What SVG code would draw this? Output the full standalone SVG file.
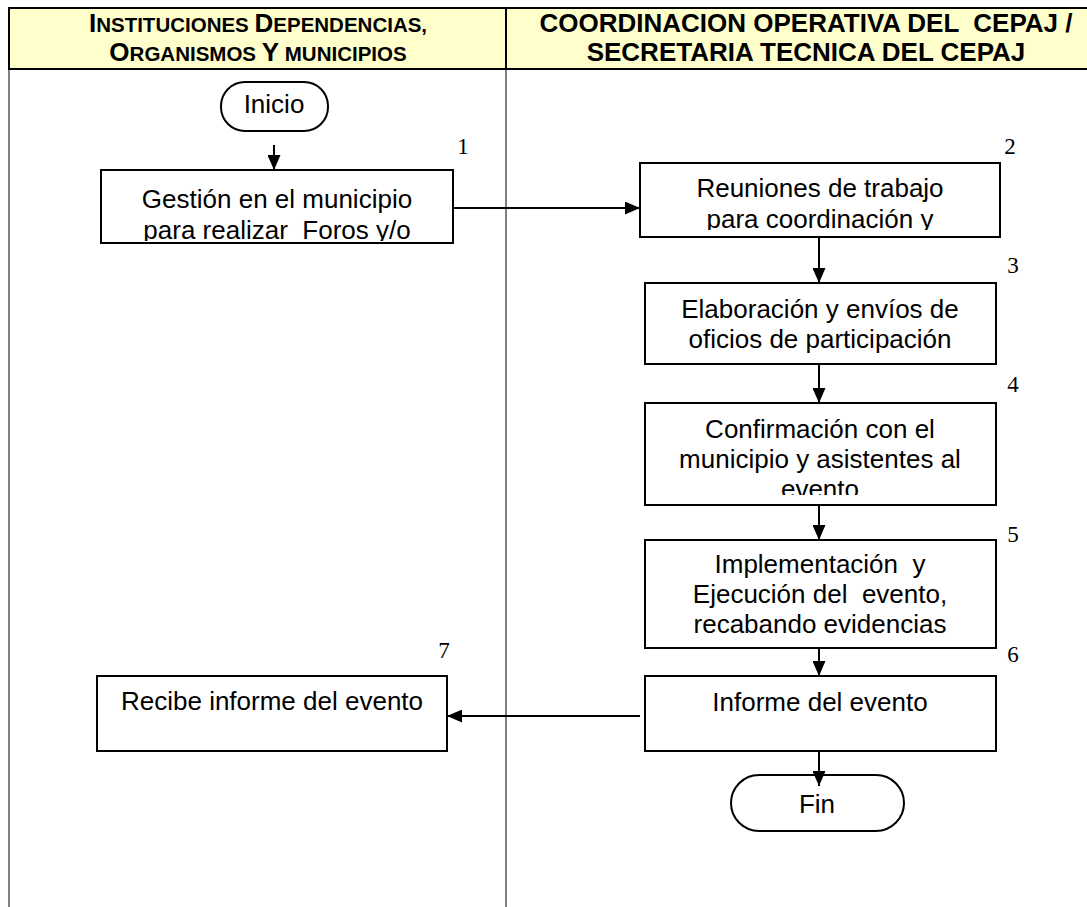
<svg xmlns="http://www.w3.org/2000/svg" width="1087" height="907" viewBox="0 0 1087 907">
<style>
.hdr{font-family:"Liberation Sans",Arial,sans-serif;font-weight:bold;fill:#000;text-anchor:middle}
.box{fill:#fff;stroke:#000;stroke-width:2}
.lbl{font-family:"Liberation Sans",Arial,sans-serif;font-size:26px;fill:#000;text-anchor:middle}
.num{font-family:"Liberation Serif","Times New Roman",serif;font-size:23px;fill:#000;text-anchor:middle}
.lane{stroke:#808080;stroke-width:2;fill:none}
.conn{stroke:#000;stroke-width:2;fill:none}
</style>
<defs>
<marker id="ah" markerWidth="15" markerHeight="13" refX="15" refY="6.5" orient="auto" markerUnits="userSpaceOnUse">
<path d="M0,0 L15,6.5 L0,13 Z" fill="#000"/>
</marker>
<clipPath id="c1"><rect x="101" y="170" width="352" height="71"/></clipPath>
<clipPath id="c2"><rect x="640" y="163" width="360" height="67"/></clipPath>
<clipPath id="c4"><rect x="645" y="403" width="351" height="92"/></clipPath>
</defs>
<rect width="1087" height="907" fill="#fff"/>
<g id="lanes">
<rect x="9" y="8" width="1090" height="61" fill="#FFFFCC" stroke="#000" stroke-width="2"/>
<line x1="506" y1="8" x2="506" y2="69" stroke="#000" stroke-width="2"/>
<line class="lane" x1="9" y1="70" x2="9" y2="907"/>
<line class="lane" x1="506" y1="70" x2="506" y2="907"/>
<text class="hdr" x="258" y="32"><tspan font-size="26">I</tspan><tspan font-size="20.5">NSTITUCIONES </tspan><tspan font-size="26">D</tspan><tspan font-size="20.5">EPENDENCIAS,</tspan></text>
<text class="hdr" x="258" y="61"><tspan font-size="26">O</tspan><tspan font-size="20.5">RGANISMOS </tspan><tspan font-size="26">Y</tspan><tspan font-size="20.5"> MUNICIPIOS</tspan></text>
<text class="hdr" x="806" y="32" font-size="26" xml:space="preserve">COORDINACION OPERATIVA DEL  CEPAJ /</text>
<text class="hdr" x="806" y="61" font-size="26">SECRETARIA TECNICA DEL CEPAJ</text>
</g>
<g id="inicio">
<rect class="box" x="221" y="82" width="107" height="49" rx="24" ry="24"/>
<text class="lbl" x="274" y="113" font-size="24">Inicio</text>
</g>
<g id="n1">
<rect class="box" x="101" y="170" width="352" height="73"/>
<g clip-path="url(#c1)">
<text class="lbl" x="277" y="208">Gestión en el municipio</text>
<text class="lbl" x="277" y="239" xml:space="preserve">para realizar  Foros y/o</text>
</g>
<text class="num" x="463" y="154">1</text>
</g>
<g id="n2">
<rect class="box" x="640" y="163" width="360" height="74"/>
<g clip-path="url(#c2)">
<text class="lbl" x="820" y="197">Reuniones de trabajo</text>
<text class="lbl" x="820" y="228">para coordinación y</text>
</g>
<text class="num" x="1010" y="154">2</text>
</g>
<g id="n3">
<rect class="box" x="645" y="283" width="351" height="81"/>
<text class="lbl" x="820" y="318">Elaboración y envíos de</text>
<text class="lbl" x="820" y="348">oficios de participación</text>
<text class="num" x="1013" y="273">3</text>
</g>
<g id="n4">
<rect class="box" x="645" y="403" width="351" height="102"/>
<g clip-path="url(#c4)">
<text class="lbl" x="820" y="438">Confirmación con el</text>
<text class="lbl" x="820" y="468">municipio y asistentes al</text>
<text class="lbl" x="820" y="498">evento</text>
</g>
<text class="num" x="1013" y="392">4</text>
</g>
<g id="n5">
<rect class="box" x="645" y="540" width="351" height="108"/>
<text class="lbl" x="820" y="573" xml:space="preserve">Implementación  y</text>
<text class="lbl" x="820" y="603" xml:space="preserve">Ejecución del  evento,</text>
<text class="lbl" x="820" y="633">recabando evidencias</text>
<text class="num" x="1013" y="542">5</text>
</g>
<g id="n6">
<rect class="box" x="645" y="676" width="351" height="75"/>
<text class="lbl" x="820" y="711">Informe del evento</text>
<text class="num" x="1013" y="662">6</text>
</g>
<g id="n7">
<rect class="box" x="97" y="676" width="350" height="75"/>
<text class="lbl" x="272" y="710">Recibe informe del evento</text>
<text class="num" x="444" y="658">7</text>
</g>
<g id="fin">
<rect class="box" x="731" y="775" width="173" height="56" rx="28" ry="28"/>
<text class="lbl" x="817" y="813" font-size="24">Fin</text>
</g>
<g id="connectors">
<line class="conn" x1="274" y1="145" x2="274" y2="170" marker-end="url(#ah)"/>
<line class="conn" x1="453" y1="208" x2="640" y2="208" marker-end="url(#ah)"/>
<line class="conn" x1="819" y1="237" x2="819" y2="283" marker-end="url(#ah)"/>
<line class="conn" x1="819" y1="364" x2="819" y2="403" marker-end="url(#ah)"/>
<line class="conn" x1="819" y1="505" x2="819" y2="540" marker-end="url(#ah)"/>
<line class="conn" x1="819" y1="648" x2="819" y2="676" marker-end="url(#ah)"/>
<line class="conn" x1="640" y1="716" x2="447" y2="716" marker-end="url(#ah)"/>
<line class="conn" x1="819" y1="751" x2="819" y2="786" marker-end="url(#ah)"/>
</g>
</svg>
